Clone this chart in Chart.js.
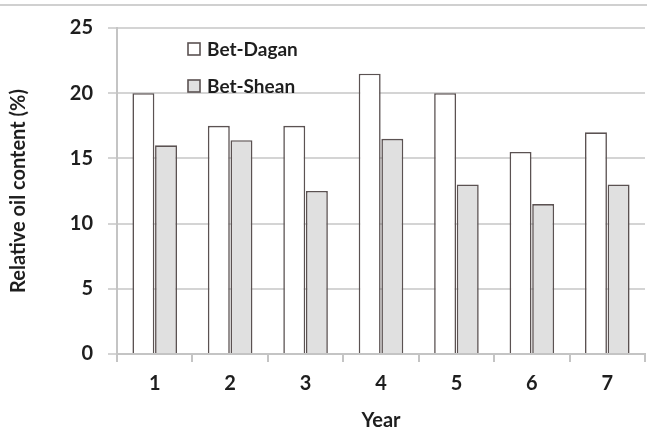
<!DOCTYPE html>
<html>
<head>
<meta charset="utf-8">
<script src="https://cdn.jsdelivr.net/npm/chart.js@4"></script>
<style>
  body { margin: 0; background: #fff; }
  #wrap { position: relative; width: 647px; height: 437px; }
  #topline { position: absolute; left: 0; top: 4px; width: 647px; border-top: 2px solid #d0d0d0; }
</style>
</head>
<body>
<div id="wrap">
  <div id="topline"></div>
  <canvas id="oilChart" width="647" height="437"></canvas>
</div>
<script>
const years = ['1', '2', '3', '4', '5', '6', '7'];
const betDagan = [20, 17.5, 17.5, 21.5, 20, 15.5, 17];
const betShean = [16, 16.4, 12.5, 16.5, 13, 11.5, 13];
const yTicks = [0, 5, 10, 15, 20, 25];

const FONT = 'Lato, "Open Sans", sans-serif';

// legend drawn inside the plot, like the original
const innerLegend = {
    id: 'innerLegend',
    afterDraw(chart) {
        const ctx = chart.ctx;
        const items = chart.data.datasets;
        ctx.save();
        ctx.font = 'bold 19px ' + FONT;
        ctx.textBaseline = 'middle';
        items.forEach((ds, i) => {
            const x = 188, y = 49 + i * 37;
            ctx.fillStyle = ds.backgroundColor;
            ctx.fillRect(x, y - 6, 12, 12);
            ctx.strokeStyle = ds.borderColor;
            ctx.lineWidth = 1.6;
            ctx.strokeRect(x, y - 6, 12, 12);
            ctx.fillStyle = '#1e1e1e';
            ctx.fillText(ds.label, x + 19, y + 1);
        });
        ctx.restore();
    }
};

new Chart(document.getElementById('oilChart').getContext('2d'), {
    type: 'bar',
    data: {
        labels: years,
        datasets: [
            { label: 'Bet-Dagan', data: betDagan, backgroundColor: '#ffffff', borderColor: '#5b5252', borderWidth: 1.6 },
            { label: 'Bet-Shean', data: betShean, backgroundColor: '#e0e0e0', borderColor: '#5b5252', borderWidth: 1.6 }
        ]
    },
    options: {
        responsive: false,
        animation: false,
        layout: { padding: { top: 28, right: 2, left: 0, bottom: 0 } },
        datasets: { bar: { categoryPercentage: 0.6, barPercentage: 0.97 } },
        plugins: {
            legend: { display: false },
            tooltip: { enabled: false }
        },
        scales: {
            x: {
                grid: { offset: true, drawOnChartArea: false, color: '#c4c4c4', lineWidth: 2, tickLength: 8 },
                border: { color: '#c4c4c4', width: 2 },
                ticks: { color: '#1e1e1e', font: { family: FONT, size: 20, weight: 'bold' }, padding: 10 },
                title: { display: true, text: 'Year', color: '#1e1e1e', font: { family: FONT, size: 20, weight: 'bold' }, padding: { top: 8 } },
                afterFit(axis) { axis.height = 83; }
            },
            y: {
                min: 0,
                max: 25,
                afterBuildTicks(axis) { axis.ticks = yTicks.map(v => ({ value: v })); },
                grid: { color: '#d4d4d4', lineWidth: 2, tickLength: 9 },
                border: { color: '#c4c4c4', width: 2 },
                ticks: { color: '#1e1e1e', font: { family: FONT, size: 20, weight: 'bold' }, padding: 15 },
                title: { display: true, text: 'Relative oil content (%)', color: '#1e1e1e', font: { family: FONT, size: 20, weight: 'bold' }, padding: { top: 7, bottom: 0 } },
                afterFit(axis) { axis.width = 117; }
            }
        }
    },
    plugins: [innerLegend]
});
</script>
</body>
</html>
